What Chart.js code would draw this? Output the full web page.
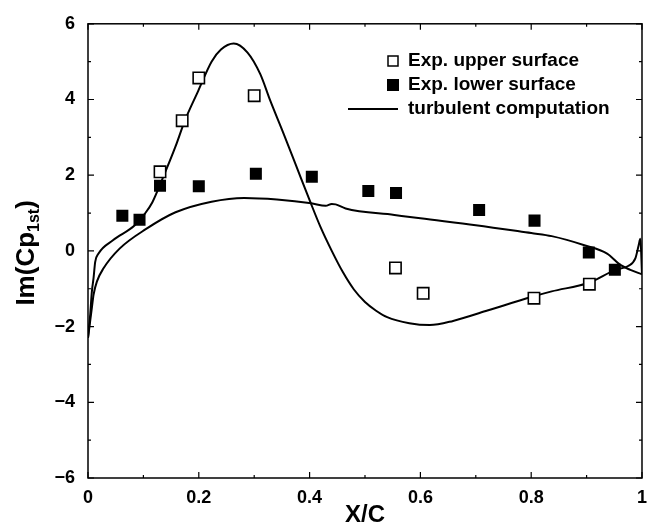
<!DOCTYPE html>
<html>
<head>
<meta charset="utf-8">
<script src="https://cdn.jsdelivr.net/npm/chart.js@4.4.1/dist/chart.umd.min.js"></script>
<style>
	html, body { margin: 0; padding: 0; background: #fff; }
	#wrap { width: 656px; height: 526px; }
</style>
</head>
<body>
<div id="wrap"><canvas id="chart" width="656" height="526"></canvas></div>
<script>
// measured Im(Cp) values, upper / lower surface
const upperX = [0.13, 0.17, 0.20, 0.30, 0.555, 0.605, 0.805, 0.905];
const upperY = [2.09, 3.44, 4.57, 4.10, -0.45, -1.12, -1.25, -0.88];
const lowerX = [0.062, 0.093, 0.13, 0.20, 0.303, 0.404, 0.506, 0.556, 0.706, 0.806, 0.904, 0.951];
const lowerY = [0.93, 0.82, 1.72, 1.71, 2.04, 1.96, 1.58, 1.53, 1.08, 0.80, -0.04, -0.50];

// computed curve, upper side of the section
const compUpperX = [0, 0.004, 0.007, 0.010, 0.013, 0.019, 0.045, 0.084, 0.102, 0.116, 0.134, 0.158, 0.175, 0.199,
	0.223, 0.240, 0.263, 0.288, 0.311, 0.329, 0.353, 0.376, 0.400, 0.420, 0.440, 0.460, 0.480, 0.500, 0.520, 0.540,
	0.580, 0.617, 0.659, 0.718, 0.800, 0.837, 0.904, 0.952, 0.975, 0.988, 0.994, 0.997, 1.0];
const compUpperY = [-2.3, -1.68, -1.07, -0.72, -0.29, -0.07, 0.28, 0.67, 0.97, 1.28, 1.89, 2.76, 3.45, 4.23,
	5.00, 5.32, 5.48, 5.24, 4.67, 3.97, 3.10, 2.24, 1.34, 0.62, 0.00, -0.56, -1.02, -1.35, -1.58, -1.75,
	-1.91, -1.96, -1.85, -1.59, -1.22, -1.07, -0.84, -0.50, -0.40, -0.20, 0.15, 0.32, -0.60];
// computed curve, lower side of the section
const compLowerX = [0, 0.007, 0.010, 0.016, 0.028, 0.057, 0.105, 0.158, 0.223, 0.282, 0.341, 0.403, 0.429,
	0.440, 0.447, 0.465, 0.553, 0.600, 0.700, 0.800, 0.837, 0.896, 0.937, 0.961, 0.979, 1.0];
const compLowerY = [-2.3, -1.50, -1.16, -0.81, -0.46, 0.06, 0.58, 1.02, 1.30, 1.40, 1.36, 1.26, 1.19,
	1.24, 1.23, 1.12, 0.95, 0.86, 0.68, 0.47, 0.39, 0.15, -0.07, -0.37, -0.50, -0.62];

const xTicks = [0, 0.2, 0.4, 0.6, 0.8, 1];
const yTicks = [-6, -4, -2, 0, 2, 4, 6];

const FONT = '"Liberation Sans", Arial, Helvetica, sans-serif';
const pts = (xs, ys) => xs.map((x, i) => ({ x, y: ys[i] }));

// frame, inward ticks, axis titles and the legend
const decor = {
	id: 'decor',
	afterDatasetsDraw(chart) {
		const { ctx, chartArea: a, scales: { x, y } } = chart;
		ctx.save();
		ctx.strokeStyle = '#000';
		ctx.lineWidth = 1.5;
		ctx.strokeRect(a.left, a.top, a.right - a.left, a.bottom - a.top);

		ctx.beginPath();
		for (let v = 0; v <= 10; v++) {
			const px = x.getPixelForValue(v / 10);
			const len = v % 2 === 0 ? 6 : 3;
			ctx.moveTo(px, a.bottom); ctx.lineTo(px, a.bottom - len);
			ctx.moveTo(px, a.top); ctx.lineTo(px, a.top + len);
		}
		for (let v = -6; v <= 6; v++) {
			const py = y.getPixelForValue(v);
			const len = v % 2 === 0 ? 6 : 3;
			ctx.moveTo(a.left, py); ctx.lineTo(a.left + len, py);
			ctx.moveTo(a.right, py); ctx.lineTo(a.right - len, py);
		}
		ctx.lineWidth = 1.2;
		ctx.stroke();

		ctx.fillStyle = '#000';
		// x title
		ctx.font = 'bold 24px ' + FONT;
		ctx.textAlign = 'center';
		ctx.textBaseline = 'middle';
		ctx.fillText('X/C', (a.left + a.right) / 2, 515);

		// y title with subscript
		ctx.translate(25, (a.top + a.bottom) / 2 + 2);
		ctx.rotate(-Math.PI / 2);
		const big = 'bold 26px ' + FONT, small = 'bold 16px ' + FONT;
		ctx.font = big; const w1 = ctx.measureText('Im(Cp').width, w3 = ctx.measureText(')').width;
		ctx.font = small; const w2 = ctx.measureText('1st').width;
		let cx = -(w1 + w2 + w3) / 2;
		ctx.textAlign = 'left';
		ctx.textBaseline = 'alphabetic';
		ctx.font = big; ctx.fillText('Im(Cp', cx, 9); cx += w1;
		ctx.font = small; ctx.fillText('1st', cx, 14); cx += w2;
		ctx.font = big; ctx.fillText(')', cx, 9);
		ctx.restore();

		// legend
		ctx.save();
		const ds = chart.data.datasets;
		const rows = [61, 85, 109];
		ctx.font = 'bold 19px ' + FONT;
		ctx.textBaseline = 'middle';
		ctx.strokeStyle = '#000';
		ctx.lineWidth = 1.5;
		ctx.fillStyle = '#fff';
		ctx.fillRect(388, rows[0] - 5, 10, 10);
		ctx.strokeRect(388, rows[0] - 5, 10, 10);
		ctx.fillStyle = '#000';
		ctx.fillRect(387, rows[1] - 6, 12, 12);
		ctx.lineWidth = 2;
		ctx.beginPath(); ctx.moveTo(348, rows[2]); ctx.lineTo(398, rows[2]); ctx.stroke();
		ctx.fillText(ds[0].label, 408, rows[0]);
		ctx.fillText(ds[1].label, 408, rows[1]);
		ctx.fillText(ds[2].label, 408, rows[2]);
		ctx.restore();
	}
};

const lineStyle = {
	type: 'line',
	showLine: true,
	borderColor: '#000',
	borderWidth: 2,
	pointRadius: 0,
	fill: false,
	cubicInterpolationMode: 'monotone'
};

new Chart(document.getElementById('chart').getContext('2d'), {
	type: 'scatter',
	data: {
		datasets: [
			{
				label: 'Exp. upper surface',
				data: pts(upperX, upperY),
				pointStyle: 'rect',
				pointRadius: 8,
				backgroundColor: '#fff',
				borderColor: '#000',
				borderWidth: 1.6
			},
			{
				label: 'Exp. lower surface',
				data: pts(lowerX, lowerY),
				pointStyle: 'rect',
				pointRadius: 8.5,
				backgroundColor: '#000',
				borderColor: '#000',
				borderWidth: 0
			},
			{ ...lineStyle, label: 'turbulent computation', data: pts(compUpperX, compUpperY) },
			{ ...lineStyle, label: 'turbulent computation (lower)', data: pts(compLowerX, compLowerY) }
		]
	},
	options: {
		responsive: false,
		animation: false,
		layout: { padding: { top: 19, right: 4, left: 0, bottom: 0 } },
		plugins: { legend: { display: false }, tooltip: { enabled: false } },
		scales: {
			x: {
				type: 'linear',
				min: 0, max: 1,
				afterFit: s => { s.height = 48; },
				afterBuildTicks: s => { s.ticks = xTicks.map(v => ({ value: v })); },
				grid: { display: false, drawTicks: false },
				border: { display: false },
				ticks: {
					padding: 9,
					color: '#000',
					font: { family: FONT, size: 18, weight: 'bold' },
					maxRotation: 0,
					callback: v => String(Number(v.toFixed(1)))
				}
			},
			y: {
				type: 'linear',
				min: -6, max: 6,
				afterFit: s => { s.width = 88; },
				afterBuildTicks: s => { s.ticks = yTicks.map(v => ({ value: v })); },
				grid: { display: false, drawTicks: false },
				border: { display: false },
				ticks: {
					padding: 13,
					color: '#000',
					font: { family: FONT, size: 18, weight: 'bold' },
					callback: v => String(v).replace('-', '\u2212')
				}
			}
		}
	},
	plugins: [decor]
});
</script>
</body>
</html>
